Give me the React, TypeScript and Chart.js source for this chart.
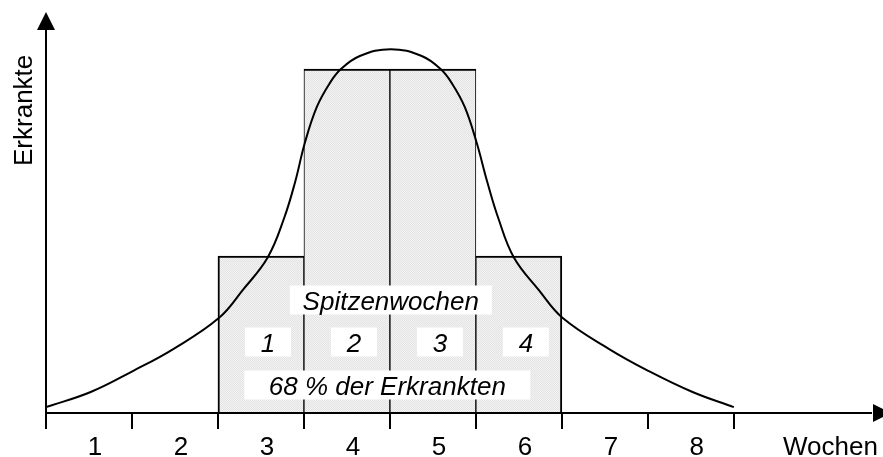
import React, { useEffect, useRef } from "react";
import { Chart, registerables } from "chart.js";

Chart.register(...registerables);

// ---- data ----
const weekLabels = ["1", "2", "3", "4", "5", "6", "7", "8"];
const axisXLabel = "Wochen";
const axisYLabel = "Erkrankte";

// bars: week number and height (relative, tallest = 100)
const barWeeks = [3, 4, 5, 6];
const barValues = [45.6, 100, 100, 45.6];

// epidemic curve (x in weeks from origin, y relative)
const curveX = [0, 0.52, 1.01, 1.48, 2.01, 2.29, 2.58, 2.77, 2.9, 3.01, 3.15, 3.3, 3.43, 3.65, 4.01, 4.37, 4.59, 4.72, 4.87, 5.01, 5.13, 5.26, 5.44, 5.73, 6.01, 6.55, 7.01, 7.52, 8.0];
const curveY = [1.7, 6.1, 12.2, 18.6, 27.6, 35.8, 45.3, 56.7, 67.4, 78.5, 89.0, 95.9, 100, 103.8, 105.8, 103.8, 100, 95.9, 89.0, 78.5, 67.4, 56.7, 45.3, 35.8, 27.6, 18.6, 12.2, 6.1, 1.7];

const peakLabel = "Spitzenwochen";
const peakWeekLabels = ["1", "2", "3", "4"];
const shareLabel = "68 % der Erkrankten";

// ---- scale extents ----
const X_MAX = 9.7;
const Y_MAX = 116.6;

const FONT = '"Liberation Sans", Arial, Helvetica, sans-serif';

const overlayPlugin = {
  id: "overlay",
  afterDatasetsDraw(chart: any) {
    const { ctx, scales } = chart;
    const xs = scales.x;
    const ys = scales.y;
    const X = (v: number) => xs.getPixelForValue(v);
    const Y = (v: number) => ys.getPixelForValue(v);
    const x0 = X(0);
    const y0 = Y(0);
    ctx.save();

    // annotation boxes
    const drawBox = (text: string, cx: number, baseline: number, w: number) => {
      ctx.fillStyle = "#ffffff";
      ctx.fillRect(cx - w / 2, baseline - 24.5, w, 29);
      ctx.fillStyle = "#000000";
      ctx.font = `italic 26px ${FONT}`;
      ctx.textAlign = "center";
      ctx.textBaseline = "alphabetic";
      ctx.fillText(text, cx, baseline);
    };
    drawBox(peakLabel, X(4.01), y0 - 103, 202);
    peakWeekLabels.forEach((t, i) => {
      drawBox(t, X(barWeeks[i] - 0.5) + 7, y0 - 61, 46);
    });
    drawBox(shareLabel, X(3.97), y0 - 18, 286);

    // axes
    ctx.strokeStyle = "#000000";
    ctx.fillStyle = "#000000";
    ctx.lineWidth = 2;
    const top = Y(Y_MAX);
    ctx.beginPath();
    ctx.moveTo(x0, y0 + 16);
    ctx.lineTo(x0, top + 16);
    ctx.moveTo(x0 - 1, y0);
    ctx.lineTo(X(X_MAX) - 8, y0);
    ctx.stroke();
    // y arrow
    ctx.beginPath();
    ctx.moveTo(x0, top);
    ctx.lineTo(x0 - 9, top + 18);
    ctx.lineTo(x0 + 9, top + 18);
    ctx.closePath();
    ctx.fill();
    // x arrow
    const ax = X(X_MAX) - 7;
    ctx.beginPath();
    ctx.moveTo(ax + 18, y0);
    ctx.lineTo(ax, y0 - 9);
    ctx.lineTo(ax, y0 + 9);
    ctx.closePath();
    ctx.fill();

    // tick marks at week boundaries
    ctx.beginPath();
    for (let i = 1; i <= weekLabels.length; i++) {
      const px = Math.round(X(i));
      ctx.moveTo(px, y0);
      ctx.lineTo(px, y0 + 16);
    }
    ctx.stroke();

    // tick labels
    ctx.font = `26px ${FONT}`;
    ctx.textAlign = "center";
    ctx.textBaseline = "alphabetic";
    weekLabels.forEach((t, i) => {
      ctx.fillText(t, X(i + 0.5) + 6, y0 + 42);
    });
    ctx.textAlign = "left";
    ctx.fillText(axisXLabel, 783, y0 + 42);

    // y label
    ctx.save();
    ctx.translate(32, Y(88));
    ctx.rotate(-Math.PI / 2);
    ctx.textAlign = "center";
    ctx.fillText(axisYLabel, 0, 0);
    ctx.restore();

    ctx.restore();
  },
};

export default function App() {
  const ref = useRef<HTMLCanvasElement | null>(null);

  useEffect(() => {
    const canvas = ref.current;
    if (!canvas) return;
    const pc = document.createElement("canvas");
    pc.width = 2;
    pc.height = 2;
    const pctx = pc.getContext("2d")!;
    pctx.fillStyle = "#f3f3f3";
    pctx.fillRect(0, 0, 2, 2);
    pctx.fillStyle = "#e3e3e3";
    pctx.fillRect(0, 0, 1, 1);
    pctx.fillRect(1, 1, 1, 1);
    const pattern = canvas.getContext("2d")!.createPattern(pc, "repeat");

    const last = barWeeks.length - 1;
    const chart = new Chart(canvas, {
      type: "bar",
      data: {
        datasets: [
          {
            type: "bar",
            data: barWeeks.map((w, i) => ({ x: w - 0.5, y: barValues[i] })),
            backgroundColor: pattern as any,
            borderColor: "#000000",
            borderWidth: ((c: any) => ({
              top: 2,
              left: c.dataIndex === 0 ? 2 : 1,
              right: c.dataIndex === last ? 2 : 1,
              bottom: 0,
            })) as any,
            borderSkipped: "start",
            barPercentage: 1,
            categoryPercentage: 1,
            order: 2,
          } as any,
          {
            type: "line",
            data: curveX.map((x, i) => ({ x, y: curveY[i] })),
            borderColor: "#000000",
            borderWidth: 2,
            pointRadius: 0,
            fill: false,
            tension: 0.4,
            order: 1,
          } as any,
        ],
      },
      options: {
        responsive: false,
        animation: false,
        layout: { padding: { left: 46, right: 3, top: 12, bottom: 44 } },
        plugins: { legend: { display: false }, tooltip: { enabled: false } },
        scales: {
          x: {
            type: "linear",
            min: 0,
            max: X_MAX,
            offset: false,
            display: false,
            afterBuildTicks: (s: any) => {
              s.ticks = weekLabels.map((_, i) => ({ value: i })).concat([{ value: weekLabels.length }]);
            },
          },
          y: { type: "linear", min: 0, max: Y_MAX, display: false },
        },
      },
      plugins: [overlayPlugin],
    });
    return () => chart.destroy();
  }, []);

  return (
    <div style={{ position: "absolute", left: 0, top: 0, width: 883, height: 457, background: "#fff" }}>
      <canvas ref={ref} width={883} height={457} style={{ display: "block" }} />
    </div>
  );
}
